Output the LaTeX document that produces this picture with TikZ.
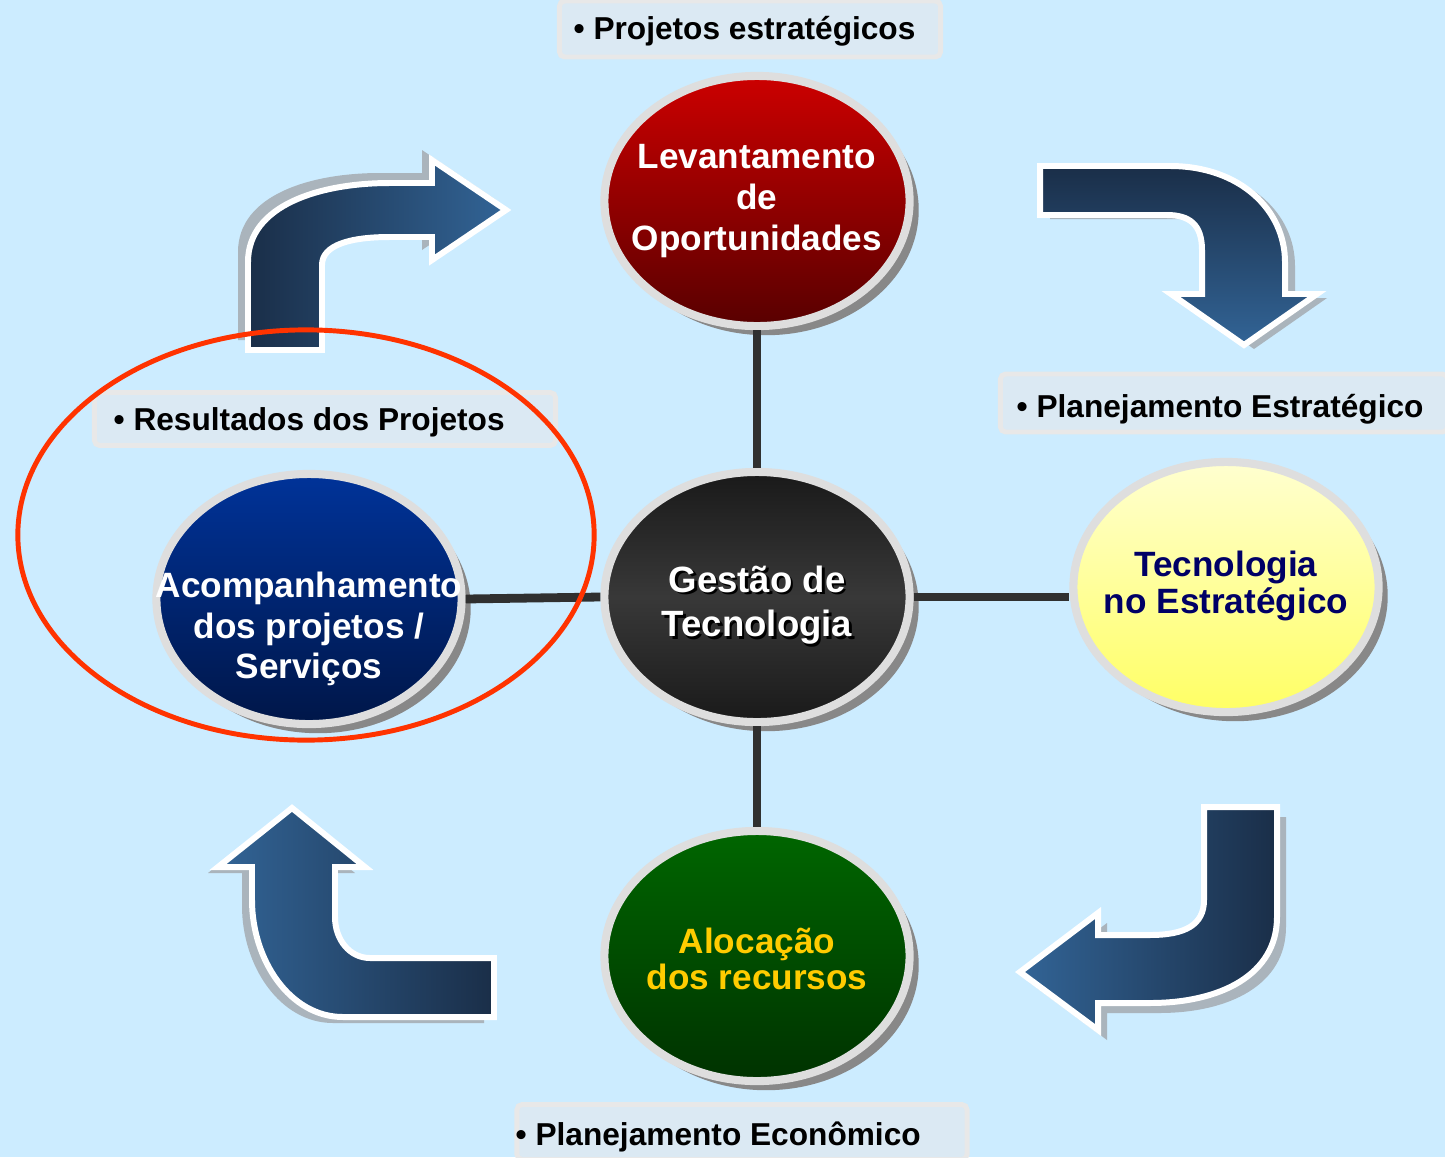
\documentclass[tikz,border=0pt]{standalone}
\usepackage{fontspec}
\setmainfont{Liberation Sans}
\usetikzlibrary{shapes.geometric,shadows}
\definecolor{bgcol}{RGB}{204,236,255}
\definecolor{boxcol}{RGB}{219,233,243}
\definecolor{boxrim}{RGB}{232,232,232}
\definecolor{rimcol}{RGB}{222,222,222}
\definecolor{shadcol}{RGB}{136,136,136}
\definecolor{arrdark}{RGB}{26,46,72}
\definecolor{arrlight}{RGB}{50,100,150}
\definecolor{arrshad}{RGB}{170,180,188}
\definecolor{spokecol}{RGB}{48,48,48}
\definecolor{markcol}{RGB}{255,51,0}
\definecolor{redtop}{RGB}{204,0,0}
\definecolor{redbot}{RGB}{88,0,0}
\definecolor{bluetop}{RGB}{0,51,153}
\definecolor{bluebot}{RGB}{0,22,72}
\definecolor{greentop}{RGB}{0,102,0}
\definecolor{greenbot}{RGB}{0,50,0}
\definecolor{yeltop}{RGB}{255,255,208}
\definecolor{yelbot}{RGB}{255,255,100}
\definecolor{navycol}{RGB}{0,0,102}
\definecolor{goldcol}{RGB}{255,204,0}

% bent arrows, one path each (pixel grid, y downwards)
\newcommand{\arrowTL}[1]{\path[#1] (248,350) -- (248,262)
  .. controls (248,205) and (320,183) .. (390,183) -- (432,183) -- (432,160)
  -- (506,210) -- (432,260) -- (432,237) -- (390,237)
  .. controls (350,237) and (322,245) .. (322,265) -- (322,350) -- cycle;}
\newcommand{\arrowTR}[1]{\path[#1] (1040,166) -- (1170,166)
  .. controls (1240,166) and (1285,210) .. (1285,262) -- (1285,294) -- (1317,294)
  -- (1244,345) -- (1171,294) -- (1202,294) -- (1202,250)
  .. controls (1202,225) and (1190,215) .. (1167,215) -- (1040,215) -- cycle;}
\newcommand{\arrowBR}[1]{\path[#1] (1204,807) -- (1277,807) -- (1277,917)
  .. controls (1277,975) and (1220,1003) .. (1150,1003) -- (1098,1003) -- (1098,1030)
  -- (1020,972) -- (1098,913) -- (1098,935) -- (1150,935)
  .. controls (1185,935) and (1204,925) .. (1204,900) -- cycle;}
\newcommand{\arrowBL}[1]{\path[#1] (494,958) -- (494,1017) -- (343,1017)
  .. controls (290,1017) and (252,960) .. (252,900) -- (252,867) -- (218,867)
  -- (292,808) -- (365,867) -- (335,867) -- (335,917)
  .. controls (335,940) and (350,958) .. (370,958) -- cycle;}

\tikzset{
  bubble/.style={ellipse, minimum width=3.05cm, minimum height=2.5cm,
    draw=rimcol, line width=2.3pt, inner sep=0pt,
    drop shadow={shadow xshift=2.6pt, shadow yshift=-2.6pt, fill=shadcol, opacity=1}},
  bubtext/.style={align=center, inner sep=0pt, font=\bfseries},
  arrowbody/.style={draw=white, line width=1.7pt, line join=miter},
  spoke/.style={draw=spokecol, line width=2.5pt},
  tagbox/.style={rectangle, draw=boxrim, fill=boxcol, line width=1.4pt,
    rounded corners=1.5pt, inner sep=0pt},
  tagtext/.style={anchor=base west, inner sep=0pt,
    font=\fontsize{9}{11}\selectfont\bfseries}
}

\begin{document}
\begin{tikzpicture}[x=0.01cm, y=-0.01cm]
\useasboundingbox (0,0) rectangle (1445,1157);
\fill[bgcol] (0,0) rectangle (1445,1157);

% ------------------------------------------------------------------
% Cycle arrows (shadow first, then the shaded body)
% ------------------------------------------------------------------
\arrowTL{fill=arrshad, shift={(-10,-10)}}
\arrowTL{arrowbody, left color=arrdark, right color=arrlight}
\arrowTR{fill=arrshad, shift={(10,4)}}
\arrowTR{arrowbody, top color=arrdark, bottom color=arrlight}
\arrowBR{fill=arrshad, shift={(9,10)}}
\arrowBR{arrowbody, left color=arrlight, right color=arrdark}
\arrowBL{fill=arrshad, shift={(-10,6)}}
\arrowBL{arrowbody, left color=arrlight, right color=arrdark}

% ------------------------------------------------------------------
% Bubbles
% ------------------------------------------------------------------
\node[bubble, top color=redtop, bottom color=redbot] (levant) at (757,201) {};
\node[bubble, top color=black!90, bottom color=black!90, middle color=black!78] (gestao) at (757,597) {};
\node[bubble, top color=greentop, bottom color=greenbot] (aloc) at (757,956) {};
\node[bubble, top color=bluetop, bottom color=bluebot] (acomp) at (309,599) {};
\node[bubble, top color=yeltop, bottom color=yelbot] (tecno) at (1226,587) {};

% spokes from the hub
\draw[spoke] (levant.south) -- (gestao.north);
\draw[spoke] (gestao.south) -- (aloc.north);
\draw[spoke] (acomp.east) -- (gestao.west);
\draw[spoke] (gestao.east) -- (gestao.east -| tecno.west);

% bubble texts
\node[bubtext, white, font=\fontsize{10}{11.7}\selectfont\bfseries] (levant-txt) at (levant)
  {Levantamento\\de\\Oportunidades};
\node[bubtext, black, font=\fontsize{10.4}{12.6}\selectfont\bfseries] (gestao-sh) at ([shift={(0.7pt,-0.7pt)}]gestao.center |- 605,605)
  {Gestão de\\Tecnologia};
\node[bubtext, white, font=\fontsize{10.4}{12.6}\selectfont\bfseries] (gestao-txt) at (gestao.center |- 605,605)
  {Gestão de\\Tecnologia};
\node[bubtext, goldcol, font=\fontsize{10}{10.3}\selectfont\bfseries] (aloc-txt) at ([yshift=-0.03cm]aloc)
  {Alocação\\dos recursos};
\node[bubtext, white, font=\fontsize{10}{11.5}\selectfont\bfseries] (acomp-txt) at ([yshift=-0.3cm]acomp)
  {Acompanhamento\\dos projetos /\\Serviços};
\node[bubtext, navycol, font=\fontsize{10}{10.5}\selectfont\bfseries] (tecno-txt) at ([yshift=0.01cm]tecno)
  {Tecnologia\\no Estratégico};

% ------------------------------------------------------------------
% Tags
% ------------------------------------------------------------------
\node[tagbox, minimum width=3.81cm, minimum height=0.56cm] (tagA) at (750,29) {};
\node[tagtext] (tagA-txt) at (573,39) {• Projetos estratégicos};
\node[tagbox, minimum width=4.47cm, minimum height=0.58cm] (tagB) at (1224,403) {};
\node[tagtext] (tagB-txt) at (1016,417) {• Planejamento Estratégico};
\node[tagbox, minimum width=4.61cm, minimum height=0.53cm] (tagC) at (325,419) {};
\node[tagtext] (tagC-txt) at (113,430) {• Resultados dos Projetos};
\node[tagbox, minimum width=4.50cm, minimum height=0.55cm] (tagD) at (742,1132) {};
\node[tagtext] (tagD-txt) at (515,1145) {• Planejamento Econômico};

% highlight ring round the follow-up bubble
\draw[markcol, line width=1.4pt] (306,535) ellipse [x radius=2.88cm, y radius=2.05cm];

\end{tikzpicture}
\end{document}
